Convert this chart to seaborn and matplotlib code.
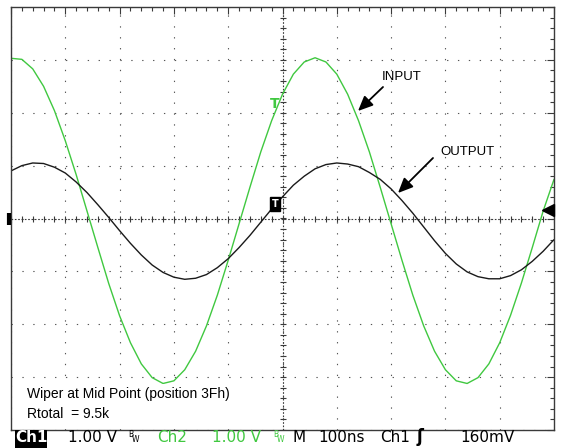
"""Scope capture: digital pot wiper at mid point, input vs output."""

import numpy as np
import pandas as pd
import seaborn as sns
import matplotlib.pyplot as plt
from matplotlib.patches import Rectangle

# time base: 100 ns/div, 10 divisions; both channels 1.00 V/div
time_ns = list(range(-500, 501, 20))

# Ch2 (green) - INPUT
input_v = [3.03, 3.01, 2.83, 2.50, 2.04, 1.47, 0.83, 0.14, -0.55, -1.23,
           -1.84, -2.35, -2.75, -3.01, -3.12, -3.07, -2.86, -2.51, -2.03, -1.45,
           -0.79, -0.10, 0.59, 1.26, 1.85, 2.35, 2.73, 2.96, 3.04, 2.96,
           2.73, 2.35, 1.85, 1.26, 0.59, -0.10, -0.79, -1.45, -2.03, -2.51,
           -2.86, -3.07, -3.12, -3.01, -2.75, -2.35, -1.83, -1.22, -0.55, 0.14,
           0.74]

# Ch1 (black) - OUTPUT
output_v = [0.90, 1.00, 1.05, 1.04, 0.97, 0.86, 0.69, 0.49, 0.26, 0.02,
            -0.23, -0.47, -0.69, -0.88, -1.02, -1.11, -1.15, -1.13, -1.06, -0.93,
            -0.76, -0.55, -0.32, -0.07, 0.18, 0.41, 0.63, 0.80, 0.94, 1.02,
            1.05, 1.03, 0.98, 0.87, 0.74, 0.56, 0.34, 0.10, -0.16, -0.42,
            -0.66, -0.86, -1.01, -1.10, -1.14, -1.14, -1.08, -0.97, -0.81, -0.62,
            -0.40]

trigger_level = 0.16   # V, Ch1
GREEN = '#40c840'
BLACK = '#1a1a1a'
FRAME = '#3a3a3a'

W, H = 561, 448

sns.set_style('white')
plt.rcParams['font.family'] = ['DejaVu Sans']

fig = plt.figure(figsize=(W / 100, H / 100), dpi=100)
ax = fig.add_axes([11 / W, 18 / H, 543 / W, 423 / H])

n = len(time_ns)
df = pd.DataFrame({
    't': time_ns + time_ns,
    'v': input_v + output_v,
    'ch': ['Ch2'] * n + ['Ch1'] * n,
})
sns.lineplot(data=df, x='t', y='v', hue='ch', hue_order=['Ch2', 'Ch1'],
             palette={'Ch2': GREEN, 'Ch1': BLACK}, estimator=None, sort=False,
             legend=False, linewidth=1.0, ax=ax)

ax.set_xlim(-500, 500)
ax.set_ylim(-4, 4)
ax.set_xlabel('')
ax.set_ylabel('')
ax.set_xticks(np.arange(-500, 501, 100))
ax.set_yticks(np.arange(-4, 5, 1))
ax.set_xticks(np.arange(-500, 501, 20), minor=True)
ax.set_yticks(np.arange(-4, 4.01, 0.2), minor=True)
ax.tick_params(which='both', direction='in', top=True, right=True,
               labelbottom=False, labelleft=False, color=FRAME, width=0.8)
ax.tick_params(which='major', length=5)
ax.tick_params(which='minor', length=3)
ax.grid(True, which='major', color='#555555', linewidth=0.8,
        linestyle=(0, (1.2, 8.6)))
for sp in ax.spines.values():
    sp.set_color(FRAME)
    sp.set_linewidth(1.0)

# centre crosshair with small division ticks
ax.axhline(0, color=FRAME, linewidth=0.8, linestyle=(0, (1.5, 1.5)), zorder=1)
ax.axvline(0, color=FRAME, linewidth=0.8, linestyle=(0, (1.5, 1.5)), zorder=1)
xt = np.arange(-500, 501, 20)
yt = np.arange(-4, 4.01, 0.2)
ax.plot(xt, np.zeros_like(xt), ls='none', marker='|', ms=5, mew=0.8, color=FRAME, zorder=1)
ax.plot(np.zeros_like(yt), yt, ls='none', marker='_', ms=5, mew=0.8, color=FRAME, zorder=1)

# scope indicators
ax.plot([489], [trigger_level], marker='<', ms=8, color='black', clip_on=False, zorder=5)
ax.plot([-503], [0], marker='|', ms=9, mew=3, color='black', clip_on=False, zorder=5)
ax.text(-14, 0.27, 'T', color='white', fontsize=7, weight='bold', ha='center', va='center',
        bbox=dict(fc='black', ec='black', boxstyle='square,pad=0.2'), zorder=6)
ax.text(-14, 2.17, 'T', color=GREEN, fontsize=10, weight='bold', ha='center', va='center', zorder=6)

# INPUT / OUTPUT callouts (figure pixel positions, origin bottom-left)
arrow = dict(arrowstyle='-|>,head_length=0.9,head_width=0.4', lw=1.3, color='black',
             shrinkA=0, shrinkB=0)
ax.annotate('', xy=(358, H - 111), xytext=(383, H - 87), xycoords='figure pixels',
            textcoords='figure pixels', arrowprops=arrow)
ax.annotate('', xy=(398, H - 193), xytext=(433, H - 158), xycoords='figure pixels',
            textcoords='figure pixels', arrowprops=arrow)
lab = dict(family=['Liberation Sans', 'DejaVu Sans'], fontsize=9.5, color='black', va='baseline')
fig.text(382 / W, 1 - 80 / H, 'INPUT', **lab)
fig.text(440 / W, 1 - 155 / H, 'OUTPUT', **lab)

# note box blanks the graticule behind it
fig.patches.append(Rectangle((20 / W, 1 - 425 / H), 225 / W, 41 / H, transform=fig.transFigure,
                             facecolor='white', edgecolor='none', zorder=3))
note = dict(family=['Liberation Sans', 'DejaVu Sans'], fontsize=10, color='black',
            va='baseline', zorder=4)
fig.text(27 / W, 1 - 398 / H, 'Wiper at Mid Point (position 3Fh)', **note)
fig.text(27 / W, 1 - 418 / H, 'Rtotal  = 9.5k', **note)

# status line under the graticule
base = 1 - 442 / H
fig.patches.append(Rectangle((15 / W, 0), 32 / W, 18 / H, transform=fig.transFigure,
                             facecolor='black', edgecolor='none'))
stat = dict(fontsize=11, va='baseline')
fig.text(31 / W, base, 'Ch1', color='white', ha='center', weight='bold', **stat)
fig.text(68 / W, base, '1.00 V', color='black', **stat)
fig.text(128 / W, 1 - 437 / H, 'B', color='black', fontsize=5.5, va='baseline')
fig.text(132 / W, 1 - 442 / H, 'W', color='black', fontsize=5.5, va='baseline')
fig.text(157 / W, base, 'Ch2', color=GREEN, **stat)
fig.text(212 / W, base, '1.00 V', color=GREEN, **stat)
fig.text(273 / W, 1 - 437 / H, 'B', color=GREEN, fontsize=5.5, va='baseline')
fig.text(277 / W, 1 - 442 / H, 'W', color=GREEN, fontsize=5.5, va='baseline')
fig.text(292 / W, base, 'M', color='black', **stat)
fig.text(318 / W, base, '100ns', color='black', **stat)
fig.text(380 / W, base, 'Ch1', color='black', **stat)
fig.text(417 / W, base, 'ʃ', color='black', fontsize=12, weight='bold', va='baseline')
fig.text(460 / W, base, '160mV', color='black', **stat)

fig.savefig('out.png', dpi=100)
